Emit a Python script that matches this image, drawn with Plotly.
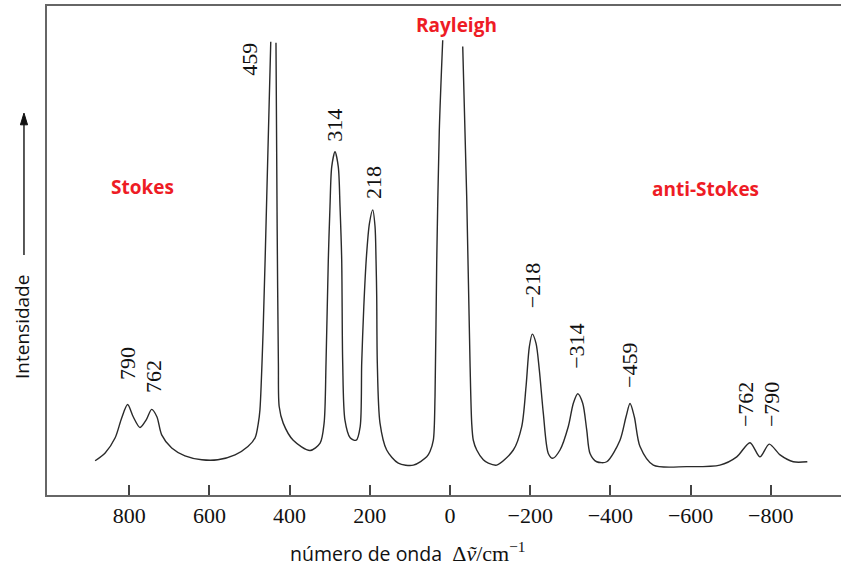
import plotly.graph_objects as go

# Raman spectrum trace (x: wavenumber shift cm^-1, y: intensity, arbitrary units)
# None marks the clipped tops of the 459 and Rayleigh lines
shift = [885, 860, 835, 819, 804, 790, 773, 758, 744, 731, 719, 694, 661, 619, 579, 536, 504, 486,
         478, 474, 466, 457, 447, None,
         434, 431, 428, 426, 416, 391, 349, 324, 314, 309.2, 303.5, 299.3, 295, 286.8, 278.6, 274.3,
         270.1, 267.6, 262, 249, 234, 224, 220.2, 215, 208.2, 201, 192.8, 187, 184.5, 182.8,
         181.3, 174.6, 158, 129, 91.5, 58.1, 49.9,
         41.6, 37.4, 33.2, 26.7, 18.2, None,
         -31.7, -41.6, -49.9, -54.1, -58.1, -66.6, -83, -95.5, -116.5, -157.9, -178.8, -189.5,
         -197.8, -205.2, -214.5, -222.7, -232.7, -245.1, -256.1, -274.3, -295, -307.5, -318.5,
         -330.9, -340.9, -349.1, -365.8, -390.8, -423.9, -438.9, -448.9, -459.6, -473.8, -507, -590,
         -673, -715, -748, -773, -796, -823, -856, -891]
intensity = [7.0, 8.6, 11.7, 15.7, 18.5, 16.0, 13.8, 15.3, 17.5, 16.0, 12.3, 9.6, 8.0, 7.2, 7.2, 8.2,
             9.9, 11.7, 14.7, 17.4, 33.7, 61.0, 92.7, None,
             92.5, 54.2, 27.0, 18.1, 14.7, 11.2, 9.1, 10.6, 14.7, 27.0, 48.1, 59.0, 67.1, 70.2, 67.1,
             59.0, 48.1, 27.0, 15.3, 11.7, 11.2, 14.0, 27.0, 38.5, 49.0, 55.5, 58.3, 54.9, 48.1, 40.6,
             27.0, 14.7, 9.2, 6.5, 6.1, 7.8, 8.9,
             11.2, 20.1, 47.4, 74.6, 93.0, None,
             91.7, 61.0, 27.0, 14.7, 11.2, 9.2, 7.2, 6.5, 6.1, 9.2, 14.0, 22.1,
             30.3, 32.9, 31.0, 25.6, 16.7, 8.5, 7.5, 9.2, 14.0, 18.75, 20.7,
             18.75, 13.3, 8.5, 6.8, 6.8, 11.2, 16.0, 18.7, 16.0, 9.9, 6.1, 5.8,
             6.1, 7.8, 10.7, 7.8, 10.4, 8.2, 6.8, 6.8]

tick_vals = [800, 600, 400, 200, 0, -200, -400, -600, -800]
tick_text = ["800", "600", "400", "200", "0", "−200", "−400", "−600", "−800"]

peak_labels = ["459", "314", "218", "790", "762", "−218", "−314", "−459", "−762", "−790"]
region_labels = ["Stokes", "Rayleigh", "anti-Stokes"]

# label placements (layout, not data)
peak_pos = [(499, 89.2), (287, 75.7), (192, 63.8), (803, 26.8), (741, 24.3),
            (-204.5, 42.7), (-316.7, 30.3), (-449, 26.4), (-735.7, 18.4), (-800.5, 18.4)]
region_pos = [(768, 63.0), (-15, 96.1), (-638, 62.6)]

fig = go.Figure()
fig.add_trace(go.Scatter(x=shift, y=intensity, mode="lines",
                         line=dict(color="#2a2a2a", width=1.4, shape="spline", smoothing=0.8),
                         connectgaps=False, hoverinfo="skip", showlegend=False))

annotations = []
for txt, (px, py) in zip(peak_labels, peak_pos):
    annotations.append(dict(x=px, y=py, xref="x", yref="y", text=txt, showarrow=False,
                            textangle=-90, xanchor="center", yanchor="middle",
                            font=dict(family="Liberation Serif", size=22, color="#111")))
for txt, (px, py) in zip(region_labels, region_pos):
    annotations.append(dict(x=px, y=py, xref="x", yref="y", text="<b>" + txt + "</b>",
                            showarrow=False, xanchor="center", yanchor="middle",
                            font=dict(family="Open Sans", size=19, color="#ee1c25")))

annotations.append(dict(x=0.4547, y=-0.1166, xref="paper", yref="paper", showarrow=False,
                        xanchor="center", yanchor="middle",
                        text="número de onda  <span style=\"font-family:'Liberation Serif';font-size:22px\">Δ<i>ṽ</i>/cm<sup>−1</sup></span>",
                        font=dict(family="Open Sans", size=19.5, color="#111")))
annotations.append(dict(x=-0.0315, y=0.3436, xref="paper", yref="paper", showarrow=False,
                        text="Intensidade", textangle=-90, xanchor="center", yanchor="middle",
                        font=dict(family="Open Sans", size=19, color="#111")))

shapes = [
    dict(type="line", xref="paper", yref="paper", x0=-0.029, x1=-0.029, y0=0.491, y1=0.765,
         line=dict(color="#111", width=1.4)),
    dict(type="path", xref="paper", yref="paper",
         path="M -0.0335 0.757 L -0.029 0.781 L -0.0245 0.757 Z",
         fillcolor="#111", line=dict(color="#111", width=1)),
]

fig.update_layout(
    width=841, height=573,
    margin=dict(l=47, r=0, t=6, b=78),
    paper_bgcolor="white", plot_bgcolor="white",
    annotations=annotations, shapes=shapes,
    xaxis=dict(range=[1005, -975], tickvals=tick_vals, ticktext=tick_text,
               ticks="inside", ticklen=10, tickwidth=1.5, tickcolor="#444",
               showline=True, linecolor="#666", linewidth=2, mirror=True,
               showgrid=False, zeroline=False,
               tickfont=dict(family="Liberation Serif", size=22, color="#111")),
    yaxis=dict(range=[0, 100], showticklabels=False, ticks="", showgrid=False,
               zeroline=False, showline=True, linecolor="#666", linewidth=2),
)

fig.write_html("out.html")
